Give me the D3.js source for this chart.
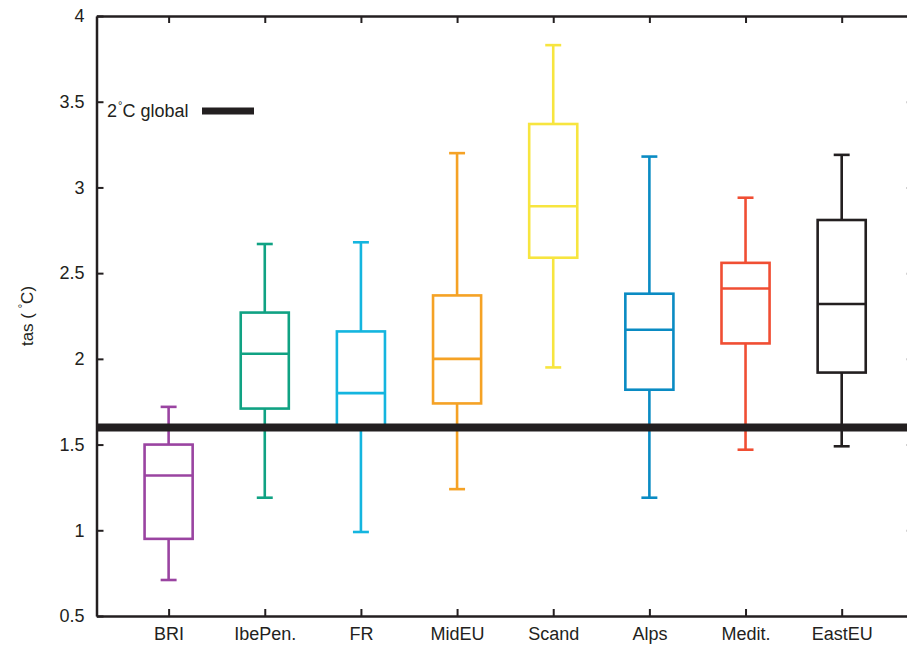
<!DOCTYPE html>
<html>
<head>
<meta charset="utf-8">
<script src="https://cdn.jsdelivr.net/npm/d3@7"></script>
<style>
  html, body { margin: 0; padding: 0; background: #fff; }
  svg { display: block; font-family: "Liberation Sans", Arial, Helvetica, sans-serif; }
</style>
</head>
<body>
<svg id="chart" width="907" height="645"></svg>
<script>
// Regional warming (tas) box plots
const regions   = ["BRI", "IbePen.", "FR", "MidEU", "Scand", "Alps", "Medit.", "EastEU"];
const whiskLow  = [0.71, 1.19, 0.99, 1.24, 1.95, 1.19, 1.47, 1.49];
const q1        = [0.95, 1.71, 1.59, 1.74, 2.59, 1.82, 2.09, 1.92];
const medians   = [1.32, 2.03, 1.80, 2.00, 2.89, 2.17, 2.41, 2.32];
const q3        = [1.50, 2.27, 2.16, 2.37, 3.37, 2.38, 2.56, 2.81];
const whiskHigh = [1.72, 2.67, 2.68, 3.20, 3.83, 3.18, 2.94, 3.19];
const colors    = ["#9a44a1", "#10a283", "#14b5df", "#f5a225", "#f7e53f", "#0a8bc3", "#f04e33", "#231f20"];
const yTicks    = [0.5, 1, 1.5, 2, 2.5, 3, 3.5, 4];
const globalLevel = 1.6;   // regional value at 2°C global warming

const ink = "#231f20";
const svg = d3.select("#chart");

const plotL = 96.5, plotR = 913.8, plotT = 16, plotB = 616;
const x = d3.scaleLinear().domain([0.25, 8.75]).range([plotL, plotR]);
const y = d3.scaleLinear().domain([0.5, 4]).range([plotB, plotT]);
const xs = regions.map((_, i) => i + 1);

const boxHalf = 0.25, capHalf = 0.083;
const data = regions.map((r, i) => ({
  pos: i + 1, lo: whiskLow[i], q1: q1[i], med: medians[i], q3: q3[i], hi: whiskHigh[i], color: colors[i]
}));

// boxes
const g = svg.append("g").attr("fill", "none").attr("stroke-width", 2.6);
data.forEach(d => {
  const b = g.append("g").attr("stroke", d.color);
  const cx = x(d.pos);
  b.append("line").attr("x1", cx).attr("x2", cx).attr("y1", y(d.hi)).attr("y2", y(d.q3));
  b.append("line").attr("x1", cx).attr("x2", cx).attr("y1", y(d.q1)).attr("y2", y(d.lo));
  b.append("line").attr("x1", x(d.pos - capHalf)).attr("x2", x(d.pos + capHalf)).attr("y1", y(d.hi)).attr("y2", y(d.hi));
  b.append("line").attr("x1", x(d.pos - capHalf)).attr("x2", x(d.pos + capHalf)).attr("y1", y(d.lo)).attr("y2", y(d.lo));
  b.append("rect").attr("x", x(d.pos - boxHalf)).attr("width", x(d.pos + boxHalf) - x(d.pos - boxHalf))
    .attr("y", y(d.q3)).attr("height", y(d.q1) - y(d.q3));
  b.append("line").attr("x1", x(d.pos - boxHalf)).attr("x2", x(d.pos + boxHalf)).attr("y1", y(d.med)).attr("y2", y(d.med));
});

// 2°C global reference line
svg.append("line")
  .attr("x1", plotL).attr("x2", plotR)
  .attr("y1", y(globalLevel)).attr("y2", y(globalLevel))
  .attr("stroke", ink).attr("stroke-width", 8);

// axes (ticks pointing inward on all four sides)
const tickLen = 7;
function styleAxis(sel) {
  sel.select(".domain").attr("stroke", ink).attr("stroke-width", 2.5);
  sel.selectAll(".tick line").attr("stroke", ink).attr("stroke-width", 2);
  sel.selectAll(".tick text").attr("fill", ink).attr("font-size", 18)
    .attr("font-family", "'Liberation Sans', Arial, Helvetica, sans-serif");
}
const yLeft = svg.append("g").attr("transform", `translate(${plotL},0)`)
  .call(d3.axisLeft(y).tickValues(yTicks).tickFormat(d3.format("")).tickSizeInner(-tickLen).tickSizeOuter(0).tickPadding(12));
styleAxis(yLeft);
const yRight = svg.append("g").attr("transform", `translate(${plotR},0)`)
  .call(d3.axisRight(y).tickValues(yTicks).tickFormat("").tickSizeInner(-tickLen).tickSizeOuter(0));
styleAxis(yRight);
const xBottom = svg.append("g").attr("transform", `translate(0,${plotB})`)
  .call(d3.axisBottom(x).tickValues(xs).tickFormat(i => regions[i - 1]).tickSizeInner(-tickLen).tickSizeOuter(0).tickPadding(10));
styleAxis(xBottom);
xBottom.selectAll(".tick text").attr("dy", null).attr("y", 24);
const xTop = svg.append("g").attr("transform", `translate(0,${plotT})`)
  .call(d3.axisTop(x).tickValues(xs).tickFormat("").tickSizeInner(-tickLen).tickSizeOuter(0));
styleAxis(xTop);

// y-axis title
const yt = svg.append("text")
  .attr("transform", `translate(33,316) rotate(-90)`)
  .attr("text-anchor", "middle").attr("font-size", 17).attr("fill", ink);
yt.append("tspan").text("tas ( ");
yt.append("tspan").attr("font-size", 11).attr("dy", -7).text("°");
yt.append("tspan").attr("dy", 7).text("C)");

// legend
const lt = svg.append("text").attr("x", 107).attr("y", 117).attr("font-size", 18).attr("fill", ink);
lt.append("tspan").text("2");
lt.append("tspan").attr("font-size", 11).attr("dy", -8).attr("dx", 1).text("°");
lt.append("tspan").attr("dy", 8).text("C global");
svg.append("line").attr("x1", 202).attr("x2", 254).attr("y1", 111).attr("y2", 111)
  .attr("stroke", ink).attr("stroke-width", 7);
</script>
</body>
</html>
